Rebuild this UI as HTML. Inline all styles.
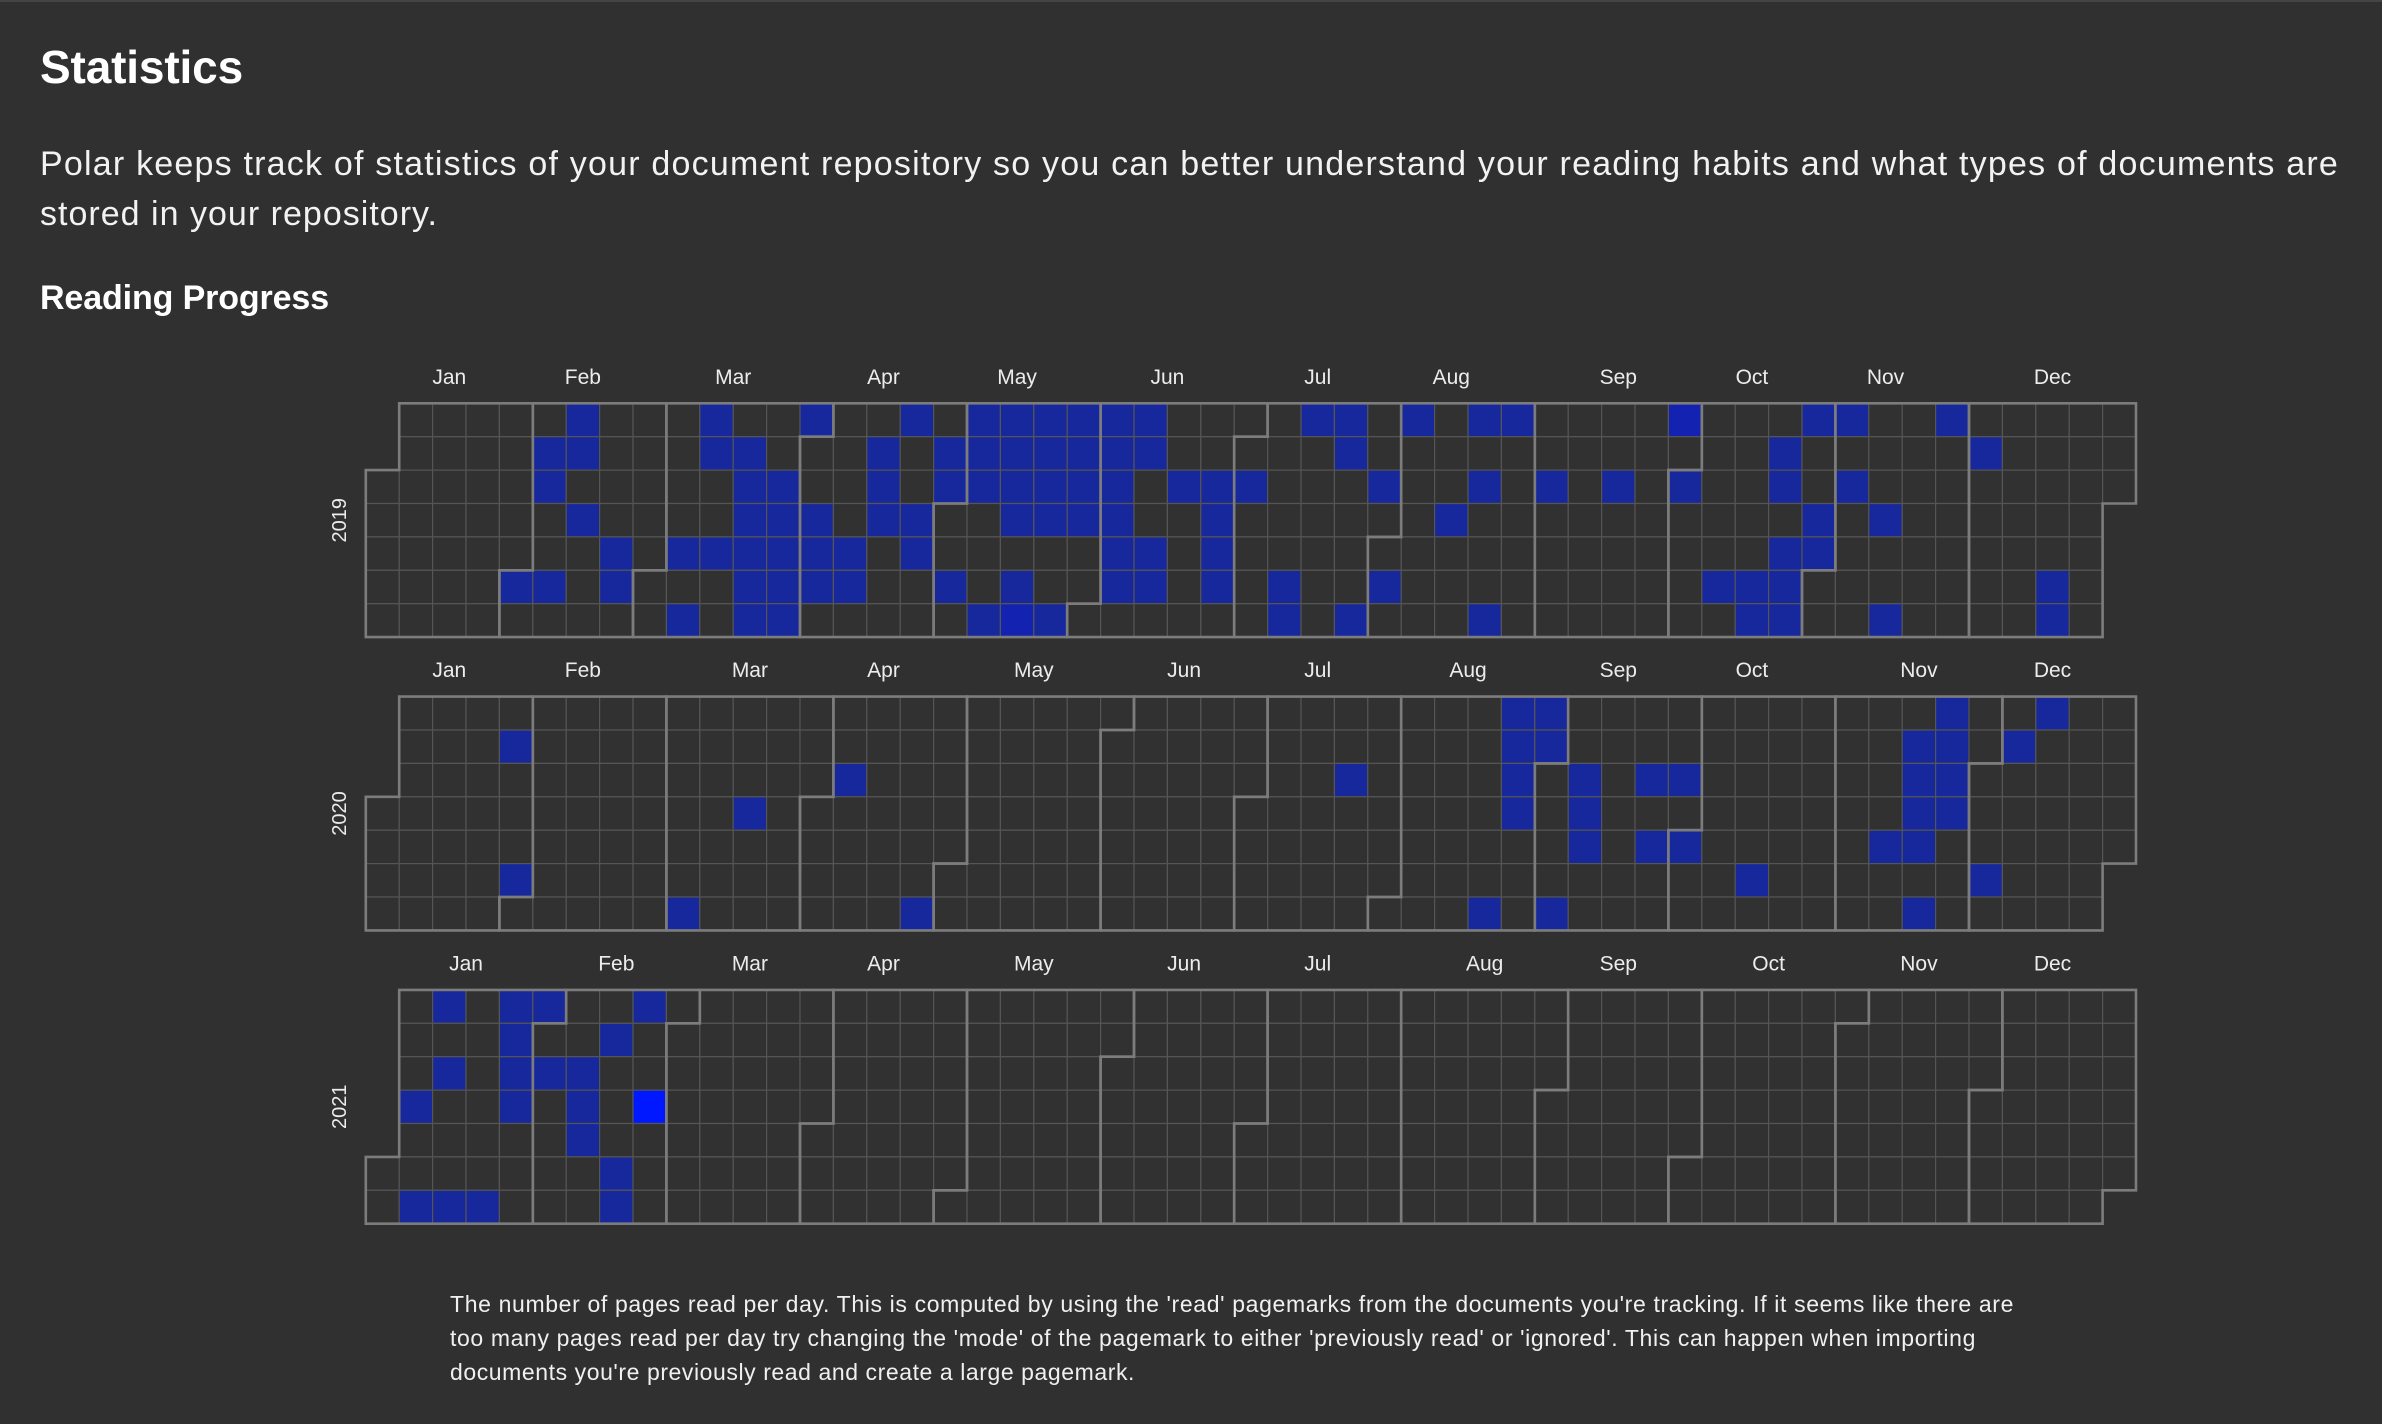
<!DOCTYPE html>
<html><head><meta charset="utf-8">
<style>
html,body{margin:0;padding:0;background:#303030;}
body{width:2382px;height:1424px;position:relative;overflow:hidden;font-family:"Liberation Sans",sans-serif;color:#fff;}
.topline{position:absolute;left:0;top:0;width:2382px;height:2px;background:#444;}
.t{position:absolute;white-space:nowrap;margin:0;}
#title{left:40px;top:40px;font-size:46px;font-weight:bold;line-height:54px;}
.para{left:40px;font-size:34px;line-height:40px;color:#f2f2f2;}
#sub{left:40px;top:278px;font-size:34px;font-weight:bold;line-height:40px;}
.foot{left:450px;font-size:23px;line-height:28px;color:#f0f0f0;}
svg{position:absolute;left:0;top:0;}
</style></head>
<body>
<div class="topline"></div>
<h1 class="t" id="title" data-w="203">Statistics</h1>
<p class="t para" style="top:144px" data-w="2299">Polar keeps track of statistics of your document repository so you can better understand your reading habits and what types of documents are</p>
<p class="t para" style="top:194px" data-w="398">stored in your repository.</p>
<h2 class="t" id="sub" data-w="289">Reading Progress</h2>
<svg id="chart" width="2382" height="1424"></svg>
<p class="t foot" style="top:1290px" data-w="1564">The number of pages read per day. This is computed by using the 'read' pagemarks from the documents you're tracking. If it seems like there are</p>
<p class="t foot" style="top:1324px" data-w="1526">too many pages read per day try changing the 'mode' of the pagemark to either 'previously read' or 'ignored'. This can happen when importing</p>
<p class="t foot" style="top:1358px" data-w="685">documents you're previously read and create a large pagemark.</p>
<script>
// ---- data: calendar week index, weekday (0=Sun), pages read ----
const years = [2019, 2020, 2021];
const monthNames = ['Jan','Feb','Mar','Apr','May','Jun','Jul','Aug','Sep','Oct','Nov','Dec'];
const week2019 = [6,10,13,16,18,19,20,21,22,23,28,29,31,33,34,39,43,44,47,
 5,6,10,11,15,17,18,19,20,21,22,23,29,42,48,
 5,11,12,15,17,18,19,20,21,22,24,25,26,30,33,35,37,39,42,44,
 6,11,12,13,15,16,19,20,21,22,25,32,43,45,
 7,9,10,11,12,13,14,16,22,23,25,42,43,
 4,5,7,11,12,13,14,17,19,22,23,25,27,30,40,41,42,50,
 9,11,12,18,19,20,27,29,33,41,42,45,50];
const weekday2019 = [0,0,0,0,0,0,0,0,0,0,0,0,0,0,0,0,0,0,0,
 1,1,1,1,1,1,1,1,1,1,1,1,1,1,1,
 2,2,2,2,2,2,2,2,2,2,2,2,2,2,2,2,2,2,2,2,
 3,3,3,3,3,3,3,3,3,3,3,3,3,3,
 4,4,4,4,4,4,4,4,4,4,4,4,4,
 5,5,5,5,5,5,5,5,5,5,5,5,5,5,5,5,5,5,
 6,6,6,6,6,6,6,6,6,6,6,6,6];
const pages2019 = [1,1,1,1,1,1,1,1,1,1,1,1,1,1,1,2,1,1,1,
 1,1,1,1,1,1,1,1,1,1,1,1,1,1,1,
 1,1,1,1,1,1,1,1,1,1,1,1,1,1,1,1,1,1,1,1,
 1,1,1,1,1,1,1,1,1,1,1,1,1,1,
 1,1,1,1,1,1,1,1,1,1,1,1,1,
 1,1,1,1,1,1,1,1,1,1,1,1,1,1,1,1,1,1,
 1,1,1,1,2,1,1,1,1,1,1,1,1];
const week2020 = [34,35,47,50, 4,34,35,46,47,49, 14,29,34,36,38,39,46,47, 11,34,36,46,47, 36,38,39,45,46, 4,41,48, 9,16,33,35,46];
const weekday2020 = [0,0,0,0, 1,1,1,1,1,1, 2,2,2,2,2,2,2,2, 3,3,3,3,3, 4,4,4,4,4, 5,5,5, 6,6,6,6,6];
const pages2020 = [1,1,1,1, 1,1,1,1,1,1, 1,1,1,1,1,1,1,1, 1,1,1,1,1, 1,1,1,1,1, 1,1,1, 1,1,1,1,1];
const week2021 = [2,4,5,8, 4,7, 2,4,5,6, 1,4,6,8, 6, 7, 1,2,3,7];
const weekday2021 = [0,0,0,0, 1,1, 2,2,2,2, 3,3,3,3, 4, 5, 6,6,6,6];
const pages2021 = [1,1,1,1, 1,1, 1,1,1,1, 1,1,1,4, 1, 1, 1,1,1,1];

const yearWeeks = {2019: week2019, 2020: week2020, 2021: week2021};
const yearDays = {2019: weekday2019, 2020: weekday2020, 2021: weekday2021};
const yearPages = {2019: pages2019, 2020: pages2020, 2021: pages2021};

// ---- layout ----
const X0 = 365.8, CS = 33.4, YEAR_Y0 = 403.3, YEAR_GAP = 293.3;
const NS = 'http://www.w3.org/2000/svg';
const svg = document.getElementById('chart');
function xOf(week){ return X0 + week*CS; }
function yOf(yi, day){ return YEAR_Y0 + yi*YEAR_GAP + day*CS; }
function colorOf(v){ return v >= 4 ? '#0018ff' : v >= 2 ? '#1322b0' : '#17279c'; }
function mk(tag, attrs){ const e = document.createElementNS(NS, tag); for (const k in attrs) e.setAttribute(k, attrs[k]); svg.appendChild(e); return e; }
function pos(y, d){ // week, weekday of a date
  const jan1 = new Date(Date.UTC(y,0,1)); const off = jan1.getUTCDay();
  const doy = Math.round((d - jan1)/86400000);
  return [Math.floor((doy+off)/7), d.getUTCDay()];
}
const filled = {};
years.forEach((y, yi) => {
  const wk = yearWeeks[y], wd = yearDays[y], pg = yearPages[y];
  for (let i = 0; i < wk.length; i++) filled[y+'-'+wk[i]+'-'+wd[i]] = pg[i];
});
years.forEach((y, yi) => {
  // day cells
  const start = new Date(Date.UTC(y,0,1)), end = new Date(Date.UTC(y+1,0,1));
  for (let d = new Date(start); d < end; d = new Date(d.getTime()+86400000)) {
    const [w, r] = pos(y, d);
    const v = filled[y+'-'+w+'-'+r];
    const rect = mk('rect', {x: xOf(w), y: yOf(yi, r), width: CS, height: CS,
      fill: v ? colorOf(v) : '#313131', stroke: '#555', 'stroke-width': 1.2});
    
    
  }
  // month borders + labels
  for (let m = 0; m < 12; m++) {
    const a = new Date(Date.UTC(y,m,1)), b = new Date(Date.UTC(y,m+1,0));
    const [fw, fd] = pos(y, a), [lw, ld] = pos(y, b);
    const y0 = yOf(yi, 0);
    const p = `M${xOf(fw+1)},${y0+fd*CS} H${xOf(fw)} V${y0+7*CS} H${xOf(lw)} V${y0+(ld+1)*CS} H${xOf(lw+1)} V${y0} H${xOf(fw+1)} Z`;
    const path = mk('path', {d: p, fill: 'none', stroke: '#7c7c7c', 'stroke-width': 2.6});
    
    
    const t = mk('text', {x: (xOf(fw) + xOf(lw+1))/2, y: y0 - 26, 'text-anchor': 'middle', 'dominant-baseline': 'central',
      fill: '#ececec', 'font-size': 21, 'font-family': 'Liberation Sans, sans-serif'});
    t.textContent = monthNames[m];
    
    
  }
  const cy = yOf(yi, 3.5);
  const yl = mk('text', {x: 340, y: cy, transform: `rotate(-90 340 ${cy})`, 'text-anchor': 'middle', 'dominant-baseline': 'central',
    fill: '#ececec', 'font-size': 20, 'font-family': 'Liberation Sans, sans-serif'});
  yl.textContent = y;
  
  
});
// fit text widths to reference
document.querySelectorAll('[data-w]').forEach(el => {
  const target = +el.getAttribute('data-w');
  const n = el.textContent.length;
  const w = el.getBoundingClientRect().width;
  el.style.letterSpacing = ((target - w) / n) + 'px';
});
</script>
</body></html>
